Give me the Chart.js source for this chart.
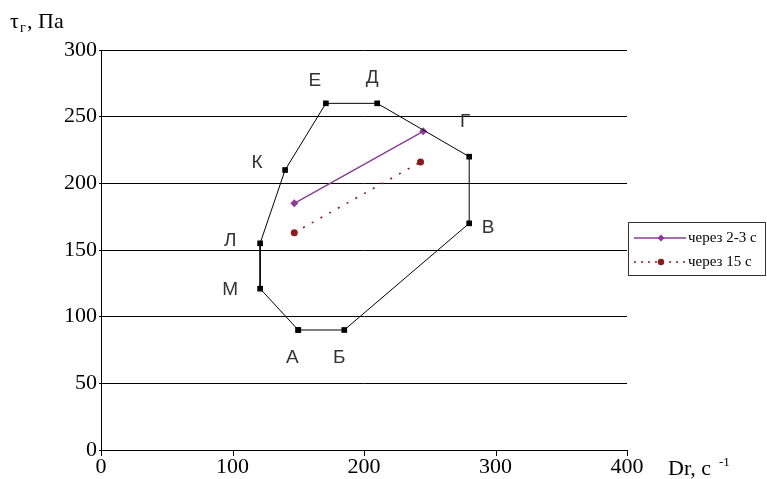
<!DOCTYPE html>
<html>
<head>
<meta charset="utf-8">
<script src="https://cdn.jsdelivr.net/npm/chart.js@4"></script>
<style>
  html, body { margin: 0; padding: 0; background: #fff; }
  #wrap { width: 767px; height: 479px; }
</style>
</head>
<body>
<div id="wrap"><canvas id="chart" width="767" height="479"></canvas></div>
<script>
// boundary polygon (closed back to А)
const polyNames = ['А', 'Б', 'В', 'Г', 'Д', 'Е', 'К', 'Л', 'М', 'А']
const polyX = [150, 185, 280, 280, 210, 171, 140, 121, 121, 150]
const polyY = [90, 90, 170, 220, 260, 260, 210, 155, 121, 90]
// measured lines
const series1Label = 'через 2-3 с'
const series1X = [147, 245]
const series1Y = [185, 239]
const series2Label = 'через 15 с'
const series2X = [147, 243]
const series2Y = [163, 216]
const xTicks = [0, 100, 200, 300, 400]
const yTicks = [0, 50, 100, 150, 200, 250, 300]

// where each letter sits relative to its point, px
const nameOffsets = {
    'А': [-6, 28], 'Б': [-5, 28], 'В': [19, 4], 'Г': [-4, -35], 'Д': [-5, -26],
    'Е': [-11, -23], 'К': [-28, -7], 'Л': [-30, -3], 'М': [-30, 1]
}

const toPoints = (xs, ys) => xs.map((x, i) => ({x: x, y: ys[i]}))

const serif = '"Liberation Serif", "Times New Roman", serif'

const extras = {
    id: 'extras',
    afterDatasetsDraw(chart) {
        const ctx = chart.ctx
        const xs = chart.scales.x
        const ys = chart.scales.y
        ctx.save()
        // tick marks below the x axis
        ctx.strokeStyle = '#000'
        ctx.lineWidth = 1
        xTicks.forEach(v => {
            const px = Math.round(xs.getPixelForValue(v)) + 0.5
            ctx.beginPath()
            ctx.moveTo(px, ys.bottom)
            ctx.lineTo(px, ys.bottom + 6)
            ctx.stroke()
        })
        // point letters
        ctx.fillStyle = '#333'
        ctx.font = '19px "Liberation Sans", Arial, sans-serif'
        ctx.textAlign = 'center'
        ctx.textBaseline = 'middle'
        polyNames.slice(0, -1).forEach((n, i) => {
            const off = nameOffsets[n]
            ctx.fillText(n, xs.getPixelForValue(polyX[i]) + off[0], ys.getPixelForValue(polyY[i]) + off[1])
        })
        // axis titles
        ctx.fillStyle = '#000'
        ctx.textAlign = 'left'
        ctx.textBaseline = 'alphabetic'
        ctx.font = '22px ' + serif
        ctx.fillText('τ', 10, 28)
        ctx.font = '14px ' + serif
        ctx.fillText('г', 20, 32)
        ctx.font = '22px ' + serif
        ctx.fillText(', Па', 27, 28)
        ctx.fillText('Dr, с', 668, 475)
        ctx.font = '13px ' + serif
        ctx.fillText('-1', 719, 466)
        // legend
        ctx.strokeStyle = '#333'
        ctx.strokeRect(628.5, 222.5, 137, 53)
        const items = [
            {label: series1Label, color: '#8e3a99', dash: [], y: 238, style: 'rectRot'},
            {label: series2Label, color: '#8b1a1a', dash: [2, 5], y: 262, style: 'circle'}
        ]
        items.forEach(it => {
            ctx.strokeStyle = it.color
            ctx.lineWidth = 1.4
            ctx.setLineDash(it.dash)
            ctx.beginPath()
            ctx.moveTo(634, it.y)
            ctx.lineTo(686, it.y)
            ctx.stroke()
            ctx.setLineDash([])
            ctx.fillStyle = it.color
            ctx.beginPath()
            if (it.style === 'circle') {
                ctx.arc(661, it.y, 3.2, 0, Math.PI * 2)
            } else {
                ctx.moveTo(661, it.y - 3.5); ctx.lineTo(664.5, it.y)
                ctx.lineTo(661, it.y + 3.5); ctx.lineTo(657.5, it.y)
                ctx.closePath()
            }
            ctx.fill()
            ctx.fillStyle = '#000'
            ctx.font = '15px ' + serif
            ctx.textBaseline = 'middle'
            ctx.fillText(it.label, 688, it.y)
        })
        ctx.restore()
    }
}

new Chart(document.getElementById('chart'), {
    type: 'scatter',
    plugins: [extras],
    data: {
        datasets: [
            {
                label: 'area',
                data: toPoints(polyX, polyY),
                showLine: true,
                borderColor: '#000',
                borderWidth: 1,
                backgroundColor: '#000',
                pointStyle: 'rect',
                pointRadius: 4,
                pointBorderWidth: 0
            },
            {
                label: series1Label,
                data: toPoints(series1X, series1Y),
                showLine: true,
                borderColor: '#8e3a99',
                backgroundColor: '#8e3a99',
                borderWidth: 1.4,
                pointStyle: 'rectRot',
                pointRadius: 4,
                pointBorderWidth: 0
            },
            {
                label: series2Label,
                data: toPoints(series2X, series2Y),
                showLine: true,
                borderColor: '#8b1a1a',
                backgroundColor: '#8b1a1a',
                borderWidth: 1.6,
                borderDash: [2, 8],
                pointStyle: 'circle',
                pointRadius: 3.5,
                pointBorderWidth: 0
            }
        ]
    },
    options: {
        responsive: false,
        animation: false,
        layout: {padding: {top: 50, right: 140, left: 0, bottom: 0}},
        plugins: {legend: {display: false}, tooltip: {enabled: false}},
        scales: {
            x: {
                type: 'linear',
                min: 0, max: 400,
                afterBuildTicks: s => { s.ticks = xTicks.map(v => ({value: v})) },
                afterFit: s => { s.height = 29 },
                grid: {display: false, drawTicks: false, tickLength: 0},
                border: {color: '#000', width: 1},
                ticks: {color: '#000', font: {family: serif, size: 22, lineHeight: 1}, padding: 6, maxRotation: 0}
            },
            y: {
                min: 0, max: 300,
                afterBuildTicks: s => { s.ticks = yTicks.map(v => ({value: v})) },
                afterFit: s => { s.width = 101 },
                grid: {color: '#000', lineWidth: 1, tickLength: 2},
                border: {color: '#000', width: 1},
                ticks: {color: '#000', font: {family: serif, size: 22}, padding: 2}
            }
        }
    }
})
</script>
</body>
</html>
